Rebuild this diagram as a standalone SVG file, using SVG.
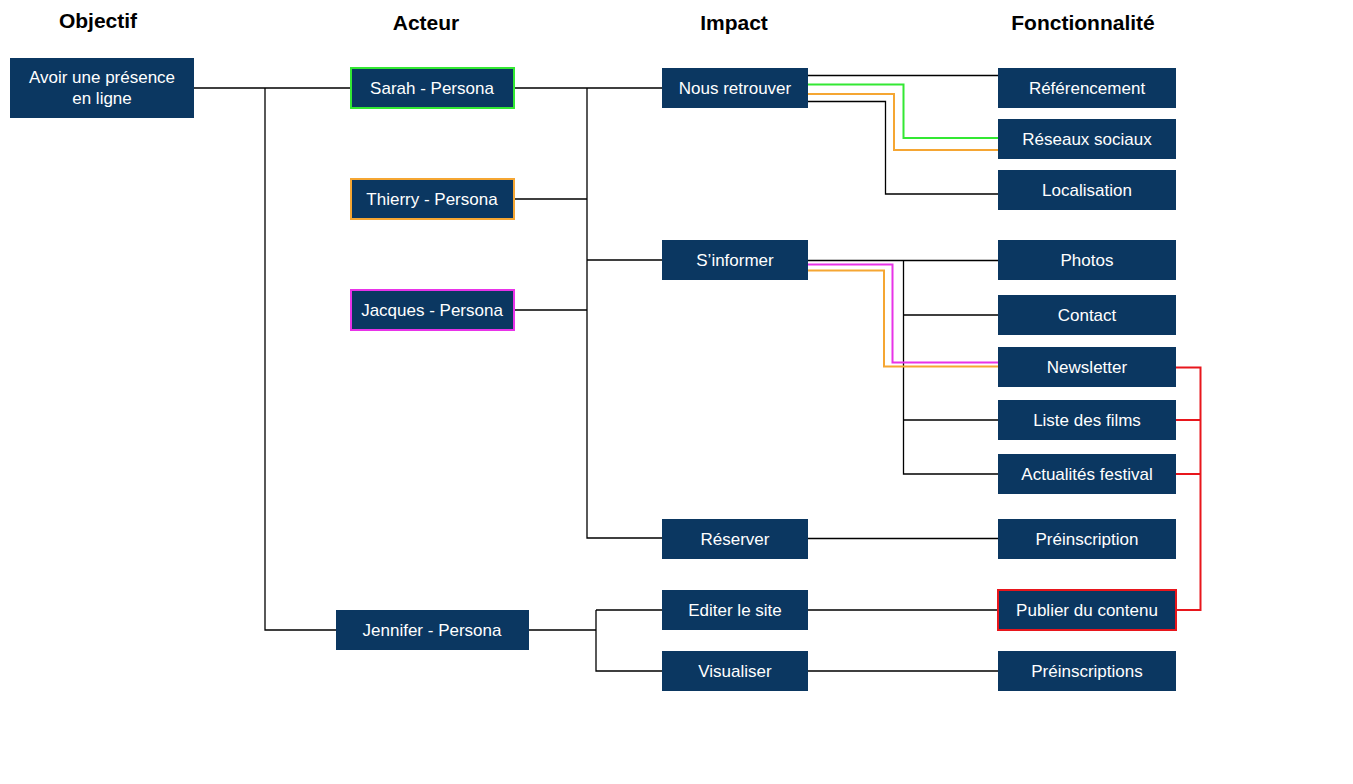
<svg xmlns="http://www.w3.org/2000/svg" width="1353" height="784" viewBox="0 0 1353 784">
<style>
.bg{fill:#ffffff}
.box{fill:#0b3761}
.t{fill:#ffffff;font-family:"Liberation Sans",Arial,sans-serif;font-size:17px;text-anchor:middle;dominant-baseline:central}
.h{fill:#000000;font-family:"Liberation Sans",Arial,sans-serif;font-size:21px;font-weight:bold;text-anchor:middle;dominant-baseline:central}
.c{fill:none;stroke:#000000;stroke-width:1.3}
.g{fill:none;stroke:#33e833;stroke-width:2}
.o{fill:none;stroke:#f5a633;stroke-width:2}
.m{fill:none;stroke:#e833e8;stroke-width:2}
.r{fill:none;stroke:#e8161c;stroke-width:2}
</style>
<rect class="bg" x="0" y="0" width="1353" height="784"/>
<g id="headers">
<text class="h" x="98" y="20">Objectif</text>
<text class="h" x="426" y="22">Acteur</text>
<text class="h" x="734" y="22">Impact</text>
<text class="h" x="1083" y="22">Fonctionnalité</text>
</g>
<g id="connectors">
<path class="c" d="M194 88H350M265 88V630H336"/>
<path class="c" d="M514 88H662M587 88V538H662M514 199H587M514 310H587M587 260H662"/>
<path class="c" d="M808 75.5H998"/>
<path class="g" d="M808 84.5H903.5V138H998"/>
<path class="o" d="M808 94H894V150H998"/>
<path class="c" d="M808 101.5H885.5V194H998"/>
<path class="c" d="M808 260.5H998M903.5 260.5V474H998M903.5 315H998M903.5 420H998"/>
<path class="m" d="M808 264.5H892.5V362.5H998"/>
<path class="o" d="M808 270.5H884V366.5H998"/>
<path class="r" d="M1176 367.5H1200.5V610H1176M1176 420H1200.5M1176 474H1200.5"/>
<path class="c" d="M808 538.5H998"/>
<path class="c" d="M529 630H596V671H662M596 610V630M596 610H662"/>
<path class="c" d="M808 610H998M808 671H998"/>
</g>
<g id="n-objectif"><rect class="box" x="10" y="58" width="184" height="60"/><text class="t" x="102" y="77">Avoir une présence</text><text class="t" x="102" y="98">en ligne</text></g>
<g id="n-sarah"><rect class="box" x="351" y="68" width="163" height="40" stroke="#33e833" stroke-width="2"/><text class="t" x="432" y="88">Sarah - Persona</text></g>
<g id="n-thierry"><rect class="box" x="351" y="179" width="163" height="40" stroke="#f5a633" stroke-width="2"/><text class="t" x="432" y="199">Thierry - Persona</text></g>
<g id="n-jacques"><rect class="box" x="351" y="290" width="163" height="40" stroke="#e833e8" stroke-width="2"/><text class="t" x="432" y="310">Jacques - Persona</text></g>
<g id="n-jennifer"><rect class="box" x="336" y="610" width="193" height="40"/><text class="t" x="432" y="630">Jennifer - Persona</text></g>
<g id="n-retrouver"><rect class="box" x="662" y="68" width="146" height="40"/><text class="t" x="735" y="88">Nous retrouver</text></g>
<g id="n-informer"><rect class="box" x="662" y="240" width="146" height="40"/><text class="t" x="735" y="260">S’informer</text></g>
<g id="n-reserver"><rect class="box" x="662" y="519" width="146" height="40"/><text class="t" x="735" y="539">Réserver</text></g>
<g id="n-editer"><rect class="box" x="662" y="590" width="146" height="40"/><text class="t" x="735" y="610">Editer le site</text></g>
<g id="n-visualiser"><rect class="box" x="662" y="651" width="146" height="40"/><text class="t" x="735" y="671">Visualiser</text></g>
<g id="n-referencement"><rect class="box" x="998" y="68" width="178" height="40"/><text class="t" x="1087" y="88">Référencement</text></g>
<g id="n-reseaux"><rect class="box" x="998" y="119" width="178" height="40"/><text class="t" x="1087" y="139">Réseaux sociaux</text></g>
<g id="n-localisation"><rect class="box" x="998" y="170" width="178" height="40"/><text class="t" x="1087" y="190">Localisation</text></g>
<g id="n-photos"><rect class="box" x="998" y="240" width="178" height="40"/><text class="t" x="1087" y="260">Photos</text></g>
<g id="n-contact"><rect class="box" x="998" y="295" width="178" height="40"/><text class="t" x="1087" y="315">Contact</text></g>
<g id="n-newsletter"><rect class="box" x="998" y="347" width="178" height="40"/><text class="t" x="1087" y="367">Newsletter</text></g>
<g id="n-films"><rect class="box" x="998" y="400" width="178" height="40"/><text class="t" x="1087" y="420">Liste des films</text></g>
<g id="n-actualites"><rect class="box" x="998" y="454" width="178" height="40"/><text class="t" x="1087" y="474">Actualités festival</text></g>
<g id="n-preinscription"><rect class="box" x="998" y="519" width="178" height="40"/><text class="t" x="1087" y="539">Préinscription</text></g>
<g id="n-publier"><rect class="box" x="998" y="590" width="178" height="40" stroke="#e8161c" stroke-width="2"/><text class="t" x="1087" y="610">Publier du contenu</text></g>
<g id="n-preinscriptions"><rect class="box" x="998" y="651" width="178" height="40"/><text class="t" x="1087" y="671">Préinscriptions</text></g>
</svg>
